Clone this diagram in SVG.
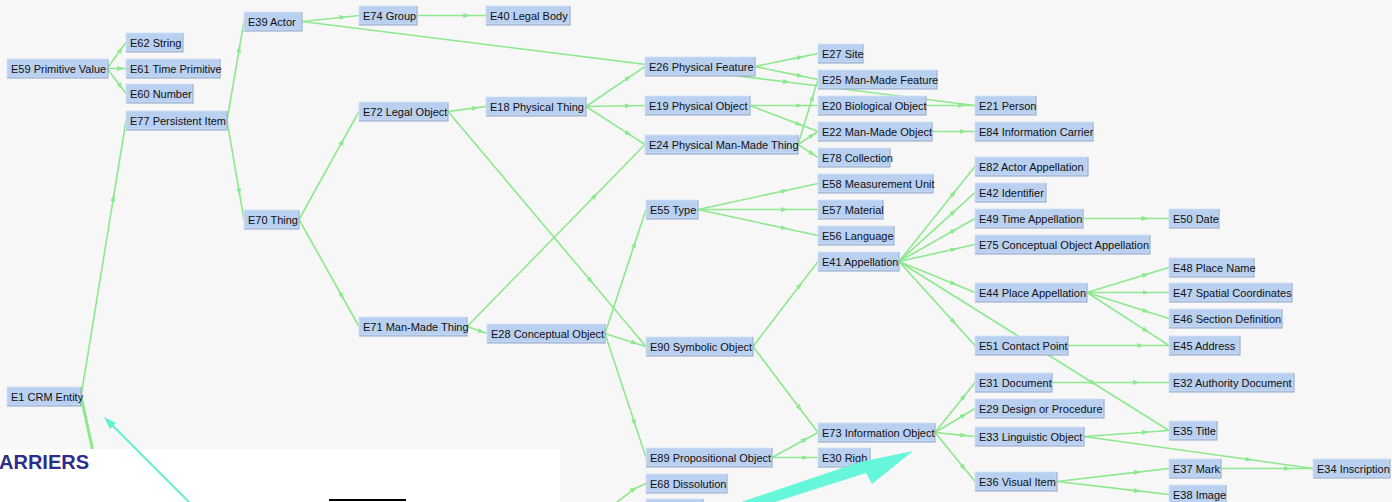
<svg xmlns="http://www.w3.org/2000/svg" width="1392" height="502" viewBox="0 0 1392 502">
<style>
.e{fill:none;stroke:#8ee88e;stroke-width:1.6;marker-mid:url(#a)}
.s{fill:#8fa7cb}
.n{fill:#bad0f0;stroke:#d3e1f6;stroke-width:0.8}
text{font-family:"Liberation Sans",Arial,sans-serif;font-size:11px;fill:#111}
</style>
<defs>
<marker id="a" markerWidth="7" markerHeight="5" refX="3.5" refY="2.5" orient="auto" markerUnits="userSpaceOnUse"><path d="M0,0 L7,2.5 L0,5 z" fill="#8ee88e"/></marker>
</defs>
<rect width="1392" height="502" fill="#f7f7f7"/>
<g id="connectors">
<path class="e" d="M81,396.5 L113.4,197.8 L126,120.5"/>
<path d="M81,396.5 L94,456" fill="none" stroke="#8ee88e" stroke-width="3"/>
<path class="e" d="M107,68.5 L120.7,49.8 L126,42.5"/>
<path class="e" d="M107,68.5 L120.7,68.5 L126,68.5"/>
<path class="e" d="M107,68.5 L120.7,86.5 L126,93.5"/>
<path class="e" d="M227,120.5 L239.2,49.2 L244,21.5"/>
<path class="e" d="M227,120.5 L239.2,191.8 L244,219.5"/>
<path class="e" d="M302,21.5 L343,17.2 L359,15.5"/>
<path class="e" d="M302,21.5 L786.6,82 L975,105.5"/>
<path class="e" d="M417,15.5 L466.7,15.5 L486,15.5"/>
<path class="e" d="M299,219.5 L342.2,141.7 L359,111.5"/>
<path class="e" d="M299,219.5 L342.2,296.5 L359,326.5"/>
<path class="e" d="M448,111.5 L475.4,107.9 L486,106.5"/>
<path class="e" d="M448,111.5 L590.6,280.7 L646,346.5"/>
<path class="e" d="M467,326.5 L595.2,195.5 L645,144.5"/>
<path class="e" d="M467,326.5 L481.4,331.5 L487,333.5"/>
<path class="e" d="M586,106.5 L628.5,77.7 L645,66.5"/>
<path class="e" d="M586,106.5 L628.5,105.8 L645,105.5"/>
<path class="e" d="M586,106.5 L628.5,133.9 L645,144.5"/>
<path class="e" d="M755,66.5 L800.4,57.1 L818,53.5"/>
<path class="e" d="M755,66.5 L800.4,75.9 L818,79.5"/>
<path class="e" d="M750,105.5 L799,105.5 L818,105.5"/>
<path class="e" d="M750,105.5 L799,124.2 L818,131.5"/>
<path class="e" d="M798,144.5 L812.4,97.7 L818,79.5"/>
<path class="e" d="M798,144.5 L812.4,135.1 L818,131.5"/>
<path class="e" d="M798,144.5 L812.4,153.9 L818,157.5"/>
<path class="e" d="M926,105.5 L961.3,105.5 L975,105.5"/>
<path class="e" d="M932,131.5 L963,131.5 L975,131.5"/>
<path class="e" d="M605,333.5 L634.5,244.2 L646,209.5"/>
<path class="e" d="M605,333.5 L634.5,342.9 L646,346.5"/>
<path class="e" d="M605,333.5 L634.5,422.8 L646,457.5"/>
<path class="e" d="M698,209.5 L784.4,190.8 L818,183.5"/>
<path class="e" d="M698,209.5 L784.4,209.5 L818,209.5"/>
<path class="e" d="M698,209.5 L784.4,228.2 L818,235.5"/>
<path class="e" d="M753,346.5 L799.8,285.3 L818,261.5"/>
<path class="e" d="M753,346.5 L799.8,408.4 L818,432.5"/>
<path class="e" d="M772,457.5 L805.1,439.5 L818,432.5"/>
<path class="e" d="M772,457.5 L805.1,457.5 L818,457.5"/>
<path class="e" d="M899,261.5 L953.7,193.1 L975,166.5"/>
<path class="e" d="M899,261.5 L953.7,211.8 L975,192.5"/>
<path class="e" d="M899,261.5 L953.7,230.5 L975,218.5"/>
<path class="e" d="M899,261.5 L953.7,249.3 L975,244.5"/>
<path class="e" d="M899,261.5 L953.7,283.8 L975,292.5"/>
<path class="e" d="M899,261.5 L953.7,322 L975,345.5"/>
<path class="e" d="M899,261.5 L1093.4,383.2 L1169,430.5"/>
<path class="e" d="M1083,218.5 L1144.9,218.5 L1169,218.5"/>
<path class="e" d="M1087,292.5 L1146,274.5 L1169,267.5"/>
<path class="e" d="M1087,292.5 L1146,292.5 L1169,292.5"/>
<path class="e" d="M1087,292.5 L1146,311.2 L1169,318.5"/>
<path class="e" d="M1087,292.5 L1146,330.7 L1169,345.5"/>
<path class="e" d="M1068,345.5 L1140.7,345.5 L1169,345.5"/>
<path class="e" d="M935,432.5 L963.8,396.5 L975,382.5"/>
<path class="e" d="M935,432.5 L963.8,415.2 L975,408.5"/>
<path class="e" d="M935,432.5 L963.8,435.4 L975,436.5"/>
<path class="e" d="M935,432.5 L963.8,467.8 L975,481.5"/>
<path class="e" d="M1052,382.5 L1136.2,382.5 L1169,382.5"/>
<path class="e" d="M1084,436.5 L1145.2,432.2 L1169,430.5"/>
<path class="e" d="M1084,436.5 L1248.9,459.5 L1313,468.5"/>
<path class="e" d="M1221,468.5 L1287.2,468.5 L1313,468.5"/>
<path class="e" d="M1057,481.5 L1137.6,472.1 L1169,468.5"/>
<path class="e" d="M1057,481.5 L1137.6,490.9 L1169,494.5"/>
<path class="e" d="M612,506 L634,489 L646,483.5"/>
</g>
<rect x="0" y="449" width="560" height="53" fill="#ffffff"/>
<g id="E59" transform="translate(7,59)"><rect class="s" width="101.5" height="19.5"/><rect class="n" width="100" height="18"/><text x="4" y="13.5">E59 Primitive Value</text></g>
<g id="E62" transform="translate(126,33)"><rect class="s" width="57.5" height="19.5"/><rect class="n" width="56" height="18"/><text x="4" y="13.5">E62 String</text></g>
<g id="E61" transform="translate(126,59)"><rect class="s" width="94.5" height="19.5"/><rect class="n" width="93" height="18"/><text x="4" y="13.5">E61 Time Primitive</text></g>
<g id="E60" transform="translate(126,84)"><rect class="s" width="67.5" height="19.5"/><rect class="n" width="66" height="18"/><text x="4" y="13.5">E60 Number</text></g>
<g id="E77" transform="translate(126,111)"><rect class="s" width="101.5" height="19.5"/><rect class="n" width="100" height="18"/><text x="4" y="13.5">E77 Persistent Item</text></g>
<g id="E39" transform="translate(244,12)"><rect class="s" width="58.5" height="19.5"/><rect class="n" width="57" height="18"/><text x="4" y="13.5">E39 Actor</text></g>
<g id="E74" transform="translate(359,6)"><rect class="s" width="58.5" height="19.5"/><rect class="n" width="57" height="18"/><text x="4" y="13.5">E74 Group</text></g>
<g id="E40" transform="translate(486,6)"><rect class="s" width="84.5" height="19.5"/><rect class="n" width="83" height="18"/><text x="4" y="13.5">E40 Legal Body</text></g>
<g id="E72" transform="translate(359,102)"><rect class="s" width="89.5" height="19.5"/><rect class="n" width="88" height="18"/><text x="4" y="13.5">E72 Legal Object</text></g>
<g id="E18" transform="translate(486,97)"><rect class="s" width="100.5" height="19.5"/><rect class="n" width="99" height="18"/><text x="4" y="13.5">E18 Physical Thing</text></g>
<g id="E70" transform="translate(244,210)"><rect class="s" width="55.5" height="19.5"/><rect class="n" width="54" height="18"/><text x="4" y="13.5">E70 Thing</text></g>
<g id="E71" transform="translate(359,317)"><rect class="s" width="108.5" height="19.5"/><rect class="n" width="107" height="18"/><text x="4" y="13.5">E71 Man-Made Thing</text></g>
<g id="E28" transform="translate(487,324)"><rect class="s" width="118.5" height="19.5"/><rect class="n" width="117" height="18"/><text x="4" y="13.5">E28 Conceptual Object</text></g>
<g id="E26" transform="translate(645,57)"><rect class="s" width="110.5" height="19.5"/><rect class="n" width="109" height="18"/><text x="4" y="13.5">E26 Physical Feature</text></g>
<g id="E19" transform="translate(645,96)"><rect class="s" width="105.5" height="19.5"/><rect class="n" width="104" height="18"/><text x="4" y="13.5">E19 Physical Object</text></g>
<g id="E24" transform="translate(645,135)"><rect class="s" width="153.5" height="19.5"/><rect class="n" width="152" height="18"/><text x="4" y="13.5">E24 Physical Man-Made Thing</text></g>
<g id="E55" transform="translate(646,200)"><rect class="s" width="52.5" height="19.5"/><rect class="n" width="51" height="18"/><text x="4" y="13.5">E55 Type</text></g>
<g id="E90" transform="translate(646,337)"><rect class="s" width="107.5" height="19.5"/><rect class="n" width="106" height="18"/><text x="4" y="13.5">E90 Symbolic Object</text></g>
<g id="E89" transform="translate(646,448)"><rect class="s" width="126.5" height="19.5"/><rect class="n" width="125" height="18"/><text x="4" y="13.5">E89 Propositional Object</text></g>
<g id="E68" transform="translate(646,474)"><rect class="s" width="81.5" height="19.5"/><rect class="n" width="80" height="18"/><text x="4" y="13.5">E68 Dissolution</text></g>
<g id="partial" transform="translate(646,499)"><rect class="s" width="57.5" height="19.5"/><rect class="n" width="56" height="18"/></g>
<g id="E27" transform="translate(818,44)"><rect class="s" width="45.5" height="19.5"/><rect class="n" width="44" height="18"/><text x="4" y="13.5">E27 Site</text></g>
<g id="E25" transform="translate(818,70)"><rect class="s" width="119.5" height="19.5"/><rect class="n" width="118" height="18"/><text x="4" y="13.5">E25 Man-Made Feature</text></g>
<g id="E20" transform="translate(818,96)"><rect class="s" width="108.5" height="19.5"/><rect class="n" width="107" height="18"/><text x="4" y="13.5">E20 Biological Object</text></g>
<g id="E22" transform="translate(818,122)"><rect class="s" width="114.5" height="19.5"/><rect class="n" width="113" height="18"/><text x="4" y="13.5">E22 Man-Made Object</text></g>
<g id="E78" transform="translate(818,148)"><rect class="s" width="72.5" height="19.5"/><rect class="n" width="71" height="18"/><text x="4" y="13.5">E78 Collection</text></g>
<g id="E58" transform="translate(818,174)"><rect class="s" width="115.5" height="19.5"/><rect class="n" width="114" height="18"/><text x="4" y="13.5">E58 Measurement Unit</text></g>
<g id="E57" transform="translate(818,200)"><rect class="s" width="65.5" height="19.5"/><rect class="n" width="64" height="18"/><text x="4" y="13.5">E57 Material</text></g>
<g id="E56" transform="translate(818,226)"><rect class="s" width="76.5" height="19.5"/><rect class="n" width="75" height="18"/><text x="4" y="13.5">E56 Language</text></g>
<g id="E41" transform="translate(818,252)"><rect class="s" width="81.5" height="19.5"/><rect class="n" width="80" height="18"/><text x="4" y="13.5">E41 Appellation</text></g>
<g id="E73" transform="translate(818,423)"><rect class="s" width="117.5" height="19.5"/><rect class="n" width="116" height="18"/><text x="4" y="13.5">E73 Information Object</text></g>
<g id="E30" transform="translate(818,448)"><rect class="s" width="52.5" height="19.5"/><rect class="n" width="51" height="18"/><text x="4" y="13.5">E30 Righ</text></g>
<g id="E21" transform="translate(975,96)"><rect class="s" width="61.5" height="19.5"/><rect class="n" width="60" height="18"/><text x="4" y="13.5">E21 Person</text></g>
<g id="E84" transform="translate(975,122)"><rect class="s" width="118.5" height="19.5"/><rect class="n" width="117" height="18"/><text x="4" y="13.5">E84 Information Carrier</text></g>
<g id="E82" transform="translate(975,157)"><rect class="s" width="113.5" height="19.5"/><rect class="n" width="112" height="18"/><text x="4" y="13.5">E82 Actor Appellation</text></g>
<g id="E42" transform="translate(975,183)"><rect class="s" width="71.5" height="19.5"/><rect class="n" width="70" height="18"/><text x="4" y="13.5">E42 Identifier</text></g>
<g id="E49" transform="translate(975,209)"><rect class="s" width="108.5" height="19.5"/><rect class="n" width="107" height="18"/><text x="4" y="13.5">E49 Time Appellation</text></g>
<g id="E75" transform="translate(975,235)"><rect class="s" width="175.5" height="19.5"/><rect class="n" width="174" height="18"/><text x="4" y="13.5">E75 Conceptual Object Appellation</text></g>
<g id="E44" transform="translate(975,283)"><rect class="s" width="112.5" height="19.5"/><rect class="n" width="111" height="18"/><text x="4" y="13.5">E44 Place Appellation</text></g>
<g id="E51" transform="translate(975,336)"><rect class="s" width="93.5" height="19.5"/><rect class="n" width="92" height="18"/><text x="4" y="13.5">E51 Contact Point</text></g>
<g id="E31" transform="translate(975,373)"><rect class="s" width="77.5" height="19.5"/><rect class="n" width="76" height="18"/><text x="4" y="13.5">E31 Document</text></g>
<g id="E29" transform="translate(975,399)"><rect class="s" width="129.5" height="19.5"/><rect class="n" width="128" height="18"/><text x="4" y="13.5">E29 Design or Procedure</text></g>
<g id="E33" transform="translate(975,427)"><rect class="s" width="109.5" height="19.5"/><rect class="n" width="108" height="18"/><text x="4" y="13.5">E33 Linguistic Object</text></g>
<g id="E36" transform="translate(975,472)"><rect class="s" width="82.5" height="19.5"/><rect class="n" width="81" height="18"/><text x="4" y="13.5">E36 Visual Item</text></g>
<g id="E50" transform="translate(1169,209)"><rect class="s" width="50.5" height="19.5"/><rect class="n" width="49" height="18"/><text x="4" y="13.5">E50 Date</text></g>
<g id="E48" transform="translate(1169,258)"><rect class="s" width="85.5" height="19.5"/><rect class="n" width="84" height="18"/><text x="4" y="13.5">E48 Place Name</text></g>
<g id="E47" transform="translate(1169,283)"><rect class="s" width="123.5" height="19.5"/><rect class="n" width="122" height="18"/><text x="4" y="13.5">E47 Spatial Coordinates</text></g>
<g id="E46" transform="translate(1169,309)"><rect class="s" width="113.5" height="19.5"/><rect class="n" width="112" height="18"/><text x="4" y="13.5">E46 Section Definition</text></g>
<g id="E45" transform="translate(1169,336)"><rect class="s" width="71.5" height="19.5"/><rect class="n" width="70" height="18"/><text x="4" y="13.5">E45 Address</text></g>
<g id="E32" transform="translate(1169,373)"><rect class="s" width="125.5" height="19.5"/><rect class="n" width="124" height="18"/><text x="4" y="13.5">E32 Authority Document</text></g>
<g id="E35" transform="translate(1169,421)"><rect class="s" width="48.5" height="19.5"/><rect class="n" width="47" height="18"/><text x="4" y="13.5">E35 Title</text></g>
<g id="E37" transform="translate(1169,459)"><rect class="s" width="52.5" height="19.5"/><rect class="n" width="51" height="18"/><text x="4" y="13.5">E37 Mark</text></g>
<g id="E38" transform="translate(1169,485)"><rect class="s" width="57.5" height="19.5"/><rect class="n" width="56" height="18"/><text x="4" y="13.5">E38 Image</text></g>
<g id="E34" transform="translate(1313,459)"><rect class="s" width="77.5" height="19.5"/><rect class="n" width="76" height="18"/><text x="4" y="13.5">E34 Inscription</text></g>
<g id="E1" transform="translate(7,387)"><rect class="s" width="74.5" height="19.5"/><rect class="n" width="73" height="18"/><text x="4" y="13.5">E1 CRM Entity</text></g>
<g id="overlay">
<path d="M190,503 L110,423" stroke="#62f0d2" stroke-width="2" fill="none"/>
<path d="M104,417 L116,423 L110,429 z" fill="#62f0d2"/>
<polygon points="741,502 860,462 913,451 872,484 866,473 775,502" fill="#66f7da"/>
<text x="-1" y="469" style="font-size:20px;font-weight:bold;fill:#2d2d8a">ARRIERS</text>
<line x1="329" y1="500" x2="406" y2="500" stroke="#000" stroke-width="2"/>
</g>
</svg>
